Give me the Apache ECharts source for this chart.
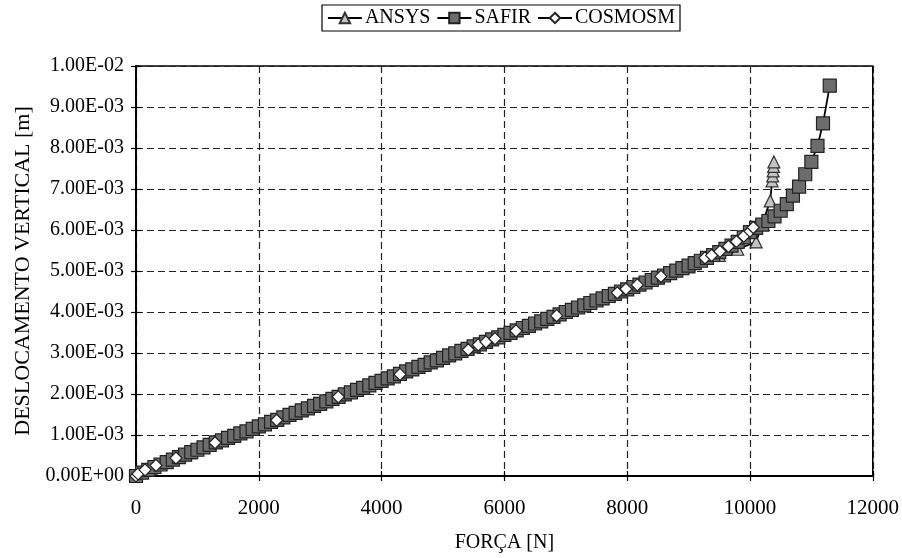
<!DOCTYPE html>
<html>
<head>
<meta charset="utf-8">
<script src="https://cdn.jsdelivr.net/npm/echarts@6/dist/echarts.min.js"></script>
<style>html,body{margin:0;padding:0;background:#fff;}#c{width:902px;height:558px;}</style>
</head>
<body>
<div id="c"></div>
<script>
// Force in N, displacement in mm (converted to m below)
const safirForce = [0,100,200,300,400,500,600,700,800,900,1000,1100,1200,1300,1400,1500,1600,1700,1800,1900,2000,2100,2200,2300,2400,2500,2600,2700,2800,2900,3000,3100,3200,3300,3400,3500,3600,3700,3800,3900,4000,4100,4200,4300,4400,4500,4600,4700,4800,4900,5000,5100,5200,5300,5400,5500,5600,5700,5800,5900,6000,6100,6200,6300,6400,6500,6600,6700,6800,6900,7000,7100,7200,7300,7400,7500,7600,7700,7800,7900,8000,8100,8200,8300,8400,8500,8600,8700,8800,8900,9000,9100,9200,9300,9400,9500,9600,9700,9800,9900,10000,10100,10200,10300,10400,10500,10600,10700,10800,10900,11000,11100,11190,11300];
const safirDisp = [0,0.08,0.15,0.22,0.28,0.34,0.40,0.46,0.52,0.58,0.64,0.70,0.76,0.82,0.87,0.93,0.98,1.04,1.09,1.15,1.21,1.26,1.32,1.37,1.43,1.49,1.54,1.60,1.65,1.71,1.76,1.82,1.88,1.93,1.99,2.04,2.10,2.15,2.21,2.27,2.32,2.38,2.43,2.49,2.55,2.60,2.66,2.71,2.77,2.82,2.88,2.94,2.99,3.05,3.10,3.16,3.21,3.27,3.33,3.38,3.44,3.49,3.55,3.61,3.66,3.72,3.77,3.83,3.88,3.94,4.00,4.05,4.11,4.16,4.22,4.28,4.33,4.39,4.44,4.50,4.55,4.61,4.67,4.72,4.78,4.84,4.89,4.95,5.01,5.07,5.13,5.19,5.25,5.32,5.39,5.46,5.54,5.62,5.71,5.82,5.95,6.05,6.13,6.22,6.33,6.47,6.63,6.84,7.06,7.36,7.66,8.05,8.60,9.52];
const ansysForce = [0,250,500,880,1500,2500,3500,4500,5500,6500,7500,8500,9000,9500,9800,10100,10330,10360,10370,10378,10385,10390];
const ansysDisp = [0,0.19,0.34,0.57,0.93,1.49,2.04,2.60,3.16,3.72,4.28,4.84,5.10,5.38,5.53,5.71,6.71,7.20,7.32,7.44,7.55,7.66];
const cosmosForce = [0,33,147,326,651,1287,2291,3295,4300,5412,5575,5700,5847,6189,6851,7839,7980,8165,8550,9267,9376,9511,9650,9780,9900,10000,10054];
const cosmosDisp = [0,0.05,0.15,0.26,0.44,0.81,1.36,1.93,2.48,3.08,3.20,3.27,3.35,3.54,3.91,4.47,4.56,4.66,4.87,5.32,5.38,5.48,5.60,5.72,5.85,5.97,6.06];
const seriesNames = ['ANSYS','SAFIR','COSMOSM'];
const xTitle = 'FORÇA [N]';
const yTitle = 'DESLOCAMENTO VERTICAL [m]';

function pairs(f, d){ return f.map((x,i)=>[x, d[i]/1000]); }
function fmtE(v){
  if (Math.abs(v) < 1e-12) return '0.00E+00';
  const s = v.toExponential(2).toUpperCase();
  const [m, e] = s.split('E');
  const sign = e[0] === '-' ? '-' : '+';
  let digits = e.replace(/[+-]/,'');
  if (digits.length < 2) digits = '0' + digits;
  return m + 'E' + sign + digits;
}
const FONT = 'Liberation Serif';
const chart = echarts.init(document.getElementById('c'), null, {renderer:'canvas'});
const gridLine = {show:true, lineStyle:{color:'#222', width:1.2, type:[7,4]}};
const legendLine = {color:'#000', width:1.8, opacity:1};
const datasets = [pairs(ansysForce, ansysDisp), pairs(safirForce, safirDisp), pairs(cosmosForce, cosmosDisp)];
const markerStyles = [
  {symbol:'triangle', symbolSize:12, itemStyle:{color:'#c4c4c4', borderColor:'#333', borderWidth:1.2}},
  {symbol:'rect', symbolSize:13, itemStyle:{color:'#6c6c6c', borderColor:'#222', borderWidth:1.2}},
  {symbol:'diamond', symbolSize:12, itemStyle:{color:'#fff', borderColor:'#222', borderWidth:1.2}}
];
const series = [];
// lines first (beneath all markers), as in the original spreadsheet chart
datasets.forEach((d,i)=>{
  series.push({name:'_line'+i, type:'line', data:d, showSymbol:false, symbol:'none',
    lineStyle:{color:'#000', width:1.8}, z:1, silent:true});
});
datasets.forEach((d,i)=>{
  series.push(Object.assign({name:seriesNames[i], type:'line', data:d,
    lineStyle:{color:'#000', width:1.8, opacity:0}, z:2+i}, markerStyles[i]));
});
chart.setOption({
  backgroundColor:'#fff',
  animation:false,
  textStyle:{fontFamily:FONT, color:'#000'},
  legend:{
    data:seriesNames.map(n=>({name:n, lineStyle:legendLine})), left:322, top:5, orient:'horizontal',
    borderColor:'#000', borderWidth:1.2, padding:[3,5,3,5], itemGap:6,
    itemWidth:34, itemHeight:13,
    textStyle:{fontFamily:FONT, fontSize:20, color:'#000', padding:[0,0,0,-2]}
  },
  grid:{left:136, right:29, top:66, bottom:79, show:true, borderColor:'#000', borderWidth:1.5, containLabel:false},
  xAxis:[{
    type:'value', min:0, max:12000, interval:2000,
    name:xTitle, nameLocation:'middle', nameGap:57,
    nameTextStyle:{fontFamily:FONT, fontSize:20, color:'#000'},
    axisLine:{show:true, onZero:false, lineStyle:{color:'#000', width:1.8}},
    axisTick:{show:true, length:5, lineStyle:{color:'#000', width:1.2}},
    axisLabel:{fontFamily:FONT, fontSize:21, color:'#000', margin:22, formatter:(v)=>String(v)},
    splitLine:gridLine
  },{
    type:'value', min:0, max:12000, interval:2000, position:'bottom',
    axisLine:{show:false}, axisLabel:{show:false}, splitLine:{show:false},
    axisTick:{show:true, inside:true, length:5, lineStyle:{color:'#000', width:1.2}}
  }],
  yAxis:[{
    type:'value', min:0, max:0.01, interval:0.001,
    name:yTitle, nameLocation:'middle', nameGap:100, nameRotate:90,
    nameTextStyle:{fontFamily:FONT, fontSize:22, color:'#000'},
    axisLine:{show:true, onZero:false, lineStyle:{color:'#000', width:1.8}},
    axisTick:{show:true, length:5, lineStyle:{color:'#000', width:1.2}},
    axisLabel:{fontFamily:FONT, fontSize:20, color:'#000', margin:12, formatter:fmtE},
    splitLine:gridLine
  },{
    type:'value', min:0, max:0.01, interval:0.001, position:'left',
    axisLine:{show:false}, axisLabel:{show:false}, splitLine:{show:false},
    axisTick:{show:true, inside:true, length:5, lineStyle:{color:'#000', width:1.2}}
  }],
  series:series
});
</script>
</body>
</html>
